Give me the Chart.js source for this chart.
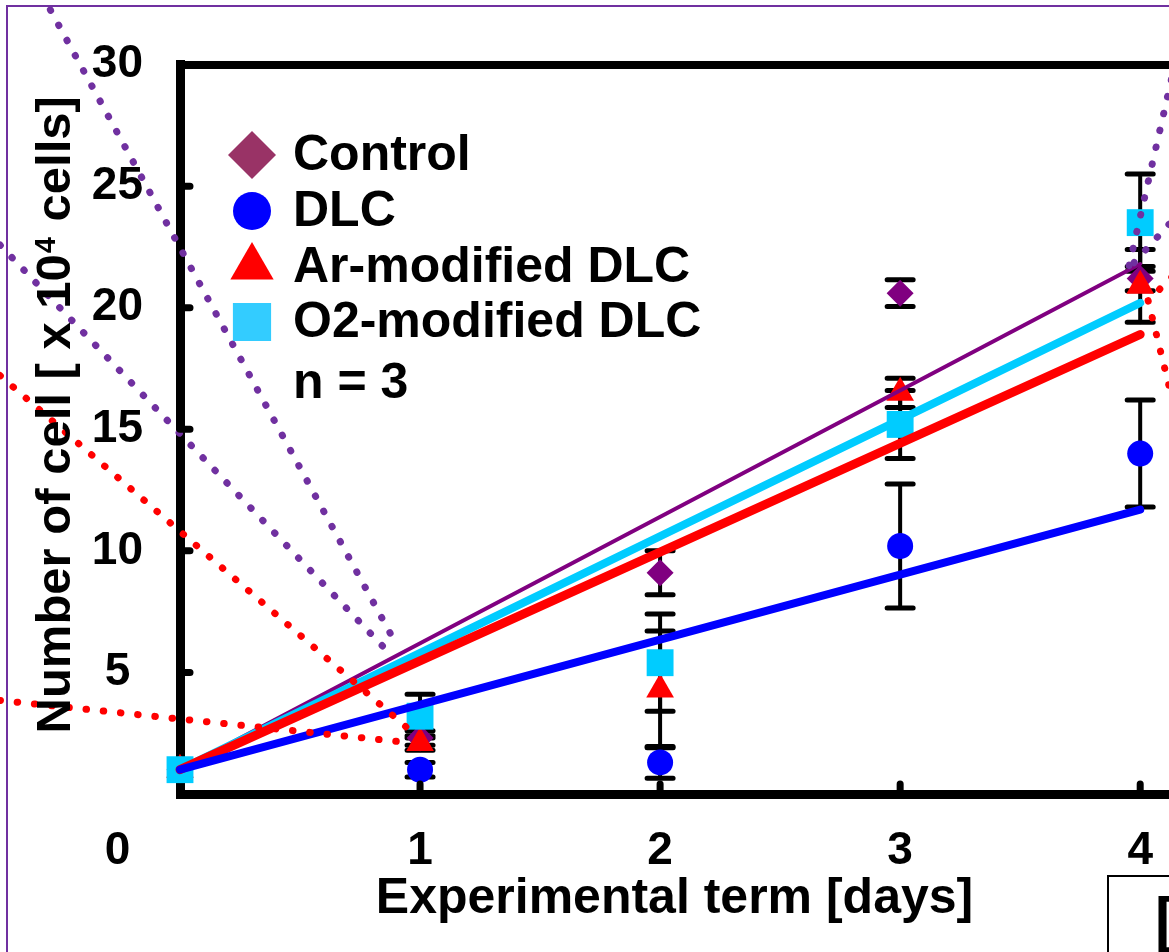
<!DOCTYPE html>
<html>
<head>
<meta charset="utf-8">
<title>Number of cell</title>
<script src="https://cdn.jsdelivr.net/npm/chart.js@4.4.1/dist/chart.umd.min.js"></script>
<style>
  html, body { margin: 0; padding: 0; background: #fff; }
  #wrap { width: 1169px; height: 952px; }
</style>
</head>
<body>
<div id="wrap"><canvas id="cellChart" width="1169" height="952"></canvas></div>
<script>
'use strict';

// values, cells x 10^4
const days = [0, 1, 2, 3, 4];
const dayTicks = [1, 2, 3, 4];
const cellTicks = [5, 10, 15, 20, 25, 30];

const control    = [1.0, 2.3, 9.1, 20.6, 21.2];
const controlErr = [0, 0.3, 0.9, 0.55, 0.5];
const dlc        = [1.0, 1.0, 1.3, 10.2, 14.0];
const dlcErr     = [0, 0.3, 0.65, 2.55, 2.2];
const arDlc      = [1.0, 2.1, 4.3, 16.5, 20.9];
const arErr      = [0, 0.3, 2.4, 0.6, 1.5];
const o2Dlc      = [1.0, 3.2, 5.4, 15.2, 23.5];
const o2Err      = [0, 0.9, 2.0, 1.4, 2.0];

// fitted lines (start / end)
const fitDays    = [0, 4];
const controlFit = [1.0, 21.8];
const dlcFit     = [1.0, 11.7];
const arFit      = [1.0, 18.9];
const o2Fit      = [1.0, 20.2];

// dotted callout lines, [day, cells] pairs
const calloutPurple = [
  [[-0.54, 32.25], [0.904, 6.1]],
  [[-0.75, 22.58], [0.854, 5.98]],
  [[4.146, 30.08], [3.946, 21.39]],
  [[4.121, 23.44], [3.958, 21.68]]
];
const calloutRed = [
  [[-0.75, 3.85], [0.9375, 2.13]],
  [[-0.75, 17.21], [0.958, 2.62]],
  [[4.133, 21.27], [4.033, 20.29]],
  [[4.033, 20.29], [4.146, 15.74]]
];

const legendNote = 'n = 3';
const xMax = 4.12;

const FONT = '"Liberation Sans", Arial, sans-serif';

function markerSet(label, values, errors, style, radius, color, legendColor, legendRadius, order){
  return {
    label: label,
    errors: errors,
    legendColor: legendColor,
    legendRadius: legendRadius,
    data: days.map((d, i) => ({x: d, y: values[i]})),
    showLine: false,
    pointStyle: style,
    pointRadius: radius,
    pointHoverRadius: radius,
    pointBackgroundColor: color,
    pointBorderColor: color,
    pointBorderWidth: 0,
    clip: false,
    order: order
  };
}

function fitSet(values, color, width, order){
  return {
    label: '',
    data: fitDays.map((d, i) => ({x: d, y: values[i]})),
    showLine: true,
    borderColor: color,
    borderWidth: width,
    borderCapStyle: 'round',
    pointRadius: 0,
    clip: false,
    order: order
  };
}

function dottedSet(seg, color){
  return {
    label: '',
    data: seg.map(p => ({x: p[0], y: p[1]})),
    showLine: true,
    borderColor: color,
    borderWidth: 7,
    borderDash: [0.5, 16.8],
    borderCapStyle: 'round',
    pointRadius: 0,
    clip: false,
    order: 0
  };
}

const datasets = [
  markerSet('Control', control, controlErr, 'rectRot', 13.5, '#800080', '#993366', 24, 8),
  markerSet('DLC', dlc, dlcErr, 'circle', 13, '#0000ff', '#0000ff', 19, 7),
  markerSet('Ar-modified DLC', arDlc, arErr, 'triangle', 16, '#ff0000', '#ff0000', 25, 6),
  markerSet('O2-modified DLC', o2Dlc, o2Err, 'rect', 19, '#00ccff', '#33ccff', 27, 5),
  fitSet(controlFit, '#800080', 4, 4),
  fitSet(o2Fit, '#00ccff', 8, 3),
  fitSet(arFit, '#ff0000', 9, 2),
  fitSet(dlcFit, '#0000ff', 8, 1)
];
calloutPurple.forEach(seg => datasets.push(dottedSet(seg, '#7030a0')));
calloutRed.forEach(seg => datasets.push(dottedSet(seg, '#ff0000')));

// white page, purple frame and the clipped box at bottom right
const framePlugin = {
  id: 'frame',
  beforeDraw(chart){
    const ctx = chart.ctx;
    ctx.save();
    ctx.fillStyle = '#fff';
    ctx.fillRect(0, 0, chart.width, chart.height);
    ctx.strokeStyle = '#7030a0';
    ctx.lineWidth = 2;
    ctx.beginPath();
    ctx.moveTo(chart.width + 5, 6);
    ctx.lineTo(7, 6);
    ctx.lineTo(7, chart.height + 5);
    ctx.stroke();
    ctx.strokeStyle = '#000';
    ctx.lineWidth = 2;
    ctx.strokeRect(1108, 876, 200, 200);
    ctx.fillStyle = '#000';
    ctx.font = 'bold 62px ' + FONT;
    ctx.textBaseline = 'alphabetic';
    ctx.textAlign = 'left';
    ctx.fillText('[', 1155, 940);
    ctx.restore();
  }
};

// error bars under the markers
const errorBarPlugin = {
  id: 'errorBars',
  beforeDatasetsDraw(chart){
    const ctx = chart.ctx;
    const xs = chart.scales.x, ys = chart.scales.y;
    ctx.save();
    ctx.strokeStyle = '#000';
    ctx.lineCap = 'round';
    chart.data.datasets.forEach(ds => {
      if(!ds.errors) return;
      ds.data.forEach((p, i) => {
        const e = ds.errors[i];
        if(!e) return;
        const x = xs.getPixelForValue(p.x);
        const yt = ys.getPixelForValue(p.y + e);
        const yb = ys.getPixelForValue(p.y - e);
        ctx.lineWidth = 4;
        ctx.beginPath();
        ctx.moveTo(x, yt); ctx.lineTo(x, yb);
        ctx.stroke();
        ctx.lineWidth = 5;
        ctx.beginPath();
        ctx.moveTo(x - 13, yt); ctx.lineTo(x + 13, yt);
        ctx.moveTo(x - 13, yb); ctx.lineTo(x + 13, yb);
        ctx.stroke();
      });
    });
    ctx.restore();
  }
};

// inner tick bumps, the lone "0", y title with superscript, legend
const decorPlugin = {
  id: 'decor',
  afterDraw(chart){
    const ctx = chart.ctx;
    const xs = chart.scales.x, ys = chart.scales.y;
    const area = chart.chartArea;
    ctx.save();
    ctx.strokeStyle = '#000';
    ctx.lineCap = 'round';
    ctx.lineWidth = 7;
    ctx.beginPath();
    dayTicks.forEach(d => {
      const x = xs.getPixelForValue(d);
      ctx.moveTo(x, area.bottom); ctx.lineTo(x, area.bottom - 10);
    });
    cellTicks.slice(0, -1).forEach(v => {
      const y = ys.getPixelForValue(v);
      ctx.moveTo(area.left, y); ctx.lineTo(area.left + 10, y);
    });
    ctx.stroke();

    ctx.fillStyle = '#000';
    ctx.font = 'bold 46px ' + FONT;
    ctx.textAlign = 'center';
    ctx.textBaseline = 'middle';
    ctx.fillText('0', area.left - 62.5, area.bottom + 57);

    // y title
    const big = 'bold 49px ' + FONT, small = 'bold 29px ' + FONT;
    const partA = 'Number of cell [ x 10', sup = '4', partB = ' cells]';
    ctx.font = big;
    const wA = ctx.measureText(partA).width, wB = ctx.measureText(partB).width;
    ctx.font = small;
    const wS = ctx.measureText(sup).width + 2;
    const total = wA + wS + wB;
    ctx.translate(70, (area.top + area.bottom) / 2 - 14);
    ctx.rotate(-Math.PI / 2);
    ctx.textAlign = 'left';
    ctx.textBaseline = 'alphabetic';
    let cx = -total / 2;
    ctx.font = big;
    ctx.fillText(partA, cx, 0);
    cx += wA + 1;
    ctx.font = small;
    ctx.fillText(sup, cx, -15);
    cx += wS;
    ctx.font = big;
    ctx.fillText(partB, cx, 0);
    ctx.setTransform(1, 0, 0, 1, 0, 0);

    // legend
    const markerX = 252, textX = 293, rowY = [155, 211, 267, 322];
    const sets = chart.data.datasets.filter(ds => ds.errors);
    ctx.font = 'bold 50px ' + FONT;
    ctx.textAlign = 'left';
    ctx.textBaseline = 'middle';
    sets.forEach((ds, i) => {
      ctx.fillStyle = ds.legendColor;
      Chart.helpers.drawPoint(ctx, {pointStyle: ds.pointStyle, radius: ds.legendRadius, rotation: 0, borderWidth: 0}, markerX, rowY[i]);
      ctx.fillStyle = '#000';
      ctx.fillText(ds.label, textX, rowY[i] + 1);
    });
    ctx.fillText(legendNote, textX, 384);
    ctx.restore();
  }
};

function noSidePadding(s){
  s.paddingLeft = 0;
  s.paddingRight = 0;
}

const chart = new Chart(document.getElementById('cellChart'), {
  type: 'scatter',
  data: {datasets: datasets},
  options: {
    responsive: false,
    animation: false,
    devicePixelRatio: 1,
    layout: {padding: 0, autoPadding: false},
    plugins: {
      legend: {display: false},
      tooltip: {enabled: false}
    },
    scales: {
      x: {
        type: 'linear',
        position: 'bottom',
        min: 0,
        max: xMax,
        grid: {display: false, drawTicks: false},
        border: {display: true, color: '#000', width: 9},
        ticks: {color: '#000', padding: 30, font: {family: FONT, size: 46, weight: 'bold'}},
        afterBuildTicks: s => { s.ticks = dayTicks.map(v => ({value: v})); },
        afterFit: s => { s.height = 158; noSidePadding(s); },
        title: {
          display: true,
          text: 'Experimental term [days]',
          color: '#000',
          font: {family: FONT, size: 50, weight: 'bold'},
          padding: {top: 0, bottom: 23}
        }
      },
      xTop: {
        type: 'linear',
        position: 'top',
        min: 0,
        max: xMax,
        grid: {display: false, drawTicks: false},
        border: {display: true, color: '#000', width: 8},
        ticks: {display: false},
        afterFit: s => { s.height = 62; noSidePadding(s); }
      },
      y: {
        type: 'linear',
        min: 0,
        max: 30,
        grid: {display: false, drawTicks: false},
        border: {display: true, color: '#000', width: 9},
        ticks: {color: '#000', padding: 37, crossAlign: 'center', font: {family: FONT, size: 46, weight: 'bold'}},
        afterBuildTicks: s => { s.ticks = cellTicks.map(v => ({value: v})); },
        afterFit: s => { s.width = 180; }
      }
    }
  },
  plugins: [framePlugin, errorBarPlugin, decorPlugin]
});
</script>
</body>
</html>
